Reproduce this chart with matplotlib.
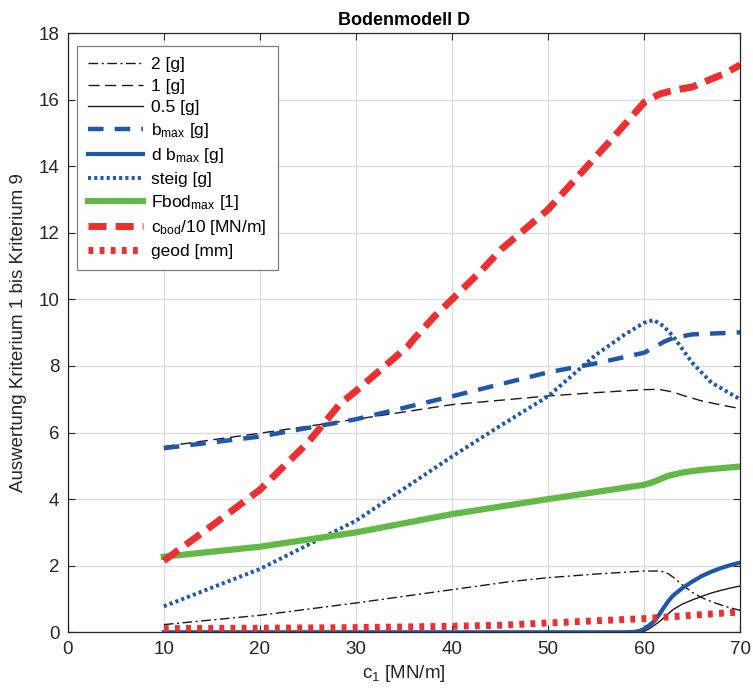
import matplotlib
matplotlib.use("Agg")
import matplotlib.pyplot as plt

plt.rcParams["font.family"] = ["Liberation Sans", "DejaVu Sans"]
plt.rcParams["mathtext.fontset"] = "custom"
plt.rcParams["mathtext.rm"] = "Liberation Sans"
plt.rcParams["mathtext.it"] = "Liberation Sans"

# Data
x_2g = [10, 20, 30, 40, 46, 50, 55, 60, 61.5, 62, 62.5, 63, 64, 65, 66, 67, 68, 69, 70]
y_2g = [0.23, 0.51, 0.88, 1.28, 1.52, 1.64, 1.75, 1.84, 1.84, 1.82, 1.76, 1.66,
        1.42, 1.2, 1.04, 0.92, 0.82, 0.73, 0.66]

x_1g = [10, 20, 30, 40, 50, 55, 60, 61.5, 63, 64, 66, 68, 70]
y_1g = [5.58, 5.98, 6.4, 6.84, 7.1, 7.2, 7.29, 7.3, 7.22, 7.12, 6.95, 6.83, 6.72]

x_05g = [10, 20, 30, 40, 50, 59.5, 60, 60.5, 61, 61.5, 62, 62.5, 63, 64, 65, 66,
         67, 68, 69, 70]
y_05g = [0.0, 0.0, 0.0, 0.0, 0.0, 0.0, 0.03, 0.1, 0.2, 0.3, 0.42, 0.55, 0.68,
         0.85, 0.97, 1.08, 1.18, 1.26, 1.33, 1.39]

x_bmax = [10, 20, 30, 40, 50, 55, 60, 61, 62, 63, 65, 70]
y_bmax = [5.53, 5.88, 6.4, 7.09, 7.81, 8.08, 8.4, 8.55, 8.72, 8.84, 8.95, 9.01]

x_dbmax = [10, 20, 30, 40, 50, 58, 59, 59.5, 60, 60.5, 61, 61.5, 62, 62.5, 63,
           64, 65, 66, 67, 68, 69, 70]
y_dbmax = [0.0, 0.0, 0.0, 0.0, 0.0, 0.0, 0.01, 0.04, 0.1, 0.2, 0.32, 0.5, 0.72,
           0.93, 1.1, 1.33, 1.52, 1.69, 1.82, 1.93, 2.02, 2.09]

x_steig = [10, 20, 30, 40, 45, 50, 55, 58, 60, 61, 62, 63, 65, 67, 70]
y_steig = [0.78, 1.9, 3.35, 5.28, 6.2, 7.09, 8.34, 8.95, 9.3, 9.38, 9.2, 8.9,
           8.1, 7.5, 7.0]

x_fbod = [10, 20, 30, 40, 50, 60, 61, 62.5, 64, 66, 70]
y_fbod = [2.27, 2.57, 3.0, 3.55, 4.0, 4.43, 4.52, 4.7, 4.8, 4.88, 4.98]

x_cbod = [10, 15, 20, 25, 28.3, 30, 35.4, 36, 38.2, 40, 43, 45.1, 50, 55, 56.8,
          60, 61.6, 63.3, 65, 66.8, 68.5, 70]
y_cbod = [2.15, 3.2, 4.28, 5.7, 6.85, 7.25, 8.59, 8.8, 9.5, 10.0, 10.85, 11.5,
          12.7, 14.3, 14.87, 15.92, 16.17, 16.3, 16.38, 16.6, 16.8, 17.05]

x_geod = [10, 20, 30, 40, 45, 50, 60, 70]
y_geod = [0.11, 0.12, 0.14, 0.18, 0.21, 0.28, 0.41, 0.61]

blue = "#1f57aa"
green = "#63b946"
red = "#ee2f2f"

fig = plt.figure(figsize=(7.53, 6.91), dpi=100)
ax = fig.add_axes([0.090, 0.085, 0.893, 0.867])

ax.plot(x_2g, y_2g, color="#1a1a1a", lw=1.0, dashes=(7, 2.5, 1.5, 2.5), label="2 [g]")
ax.plot(x_1g, y_1g, color="#1a1a1a", lw=1.0, dashes=(8, 4), label="1 [g]")
ax.plot(x_05g, y_05g, color="#1a1a1a", lw=1.0, label="0.5 [g]")
ax.plot(x_bmax, y_bmax, color=blue, lw=3.2, dashes=(3.5, 2.5),
        label=r"b$_{\mathregular{max}}$ [g]")
ax.plot(x_dbmax, y_dbmax, color=blue, lw=3.0,
        label=r"d b$_{\mathregular{max}}$ [g]")
ax.plot(x_steig, y_steig, color=blue, lw=2.8, dashes=(0.8, 0.8), label="steig [g]")
ax.plot(x_fbod, y_fbod, color=green, lw=4.5,
        label=r"Fbod$_{\mathregular{max}}$ [1]")
ax.plot(x_cbod, y_cbod, color=red, lw=5.0, dashes=(2.6, 1.3),
        label=r"c$_{\mathregular{bod}}$/10 [MN/m]")
ax.plot(x_geod, y_geod, color=red, lw=5.0, dashes=(0.7, 0.9), label="geod [mm]")

ax.set_xlim(0, 70)
ax.set_ylim(0, 18)
ax.set_xticks(range(0, 71, 10))
ax.set_yticks(range(0, 19, 2))
ax.grid(True, color="#dcdcdc", lw=0.9)
ax.set_axisbelow(True)
ax.tick_params(direction="in", top=True, right=True, labelsize=13.5,
               colors="#262626", length=5, width=0.8, pad=6)
for s in ax.spines.values():
    s.set_color("#262626")
    s.set_linewidth(0.9)

ax.set_xlabel(r"c$_{\mathregular{1}}$ [MN/m]", fontsize=13.5, color="#262626", labelpad=4)
ax.set_ylabel("Auswertung Kriterium 1 bis Kriterium 9", fontsize=13.5,
              color="#262626", labelpad=8)
ax.set_title("Bodenmodell D", fontsize=13, fontweight="bold", pad=6)

leg = ax.legend(loc="upper left", bbox_to_anchor=(0.013, 0.979), borderaxespad=0,
                fontsize=12.5, fancybox=False, edgecolor="#7f7f7f", framealpha=1,
                handlelength=3.2, handletextpad=0.45, labelspacing=0.36,
                borderpad=0.65)
leg.get_frame().set_linewidth(0.9)

fig.savefig("out.png", dpi=100)
